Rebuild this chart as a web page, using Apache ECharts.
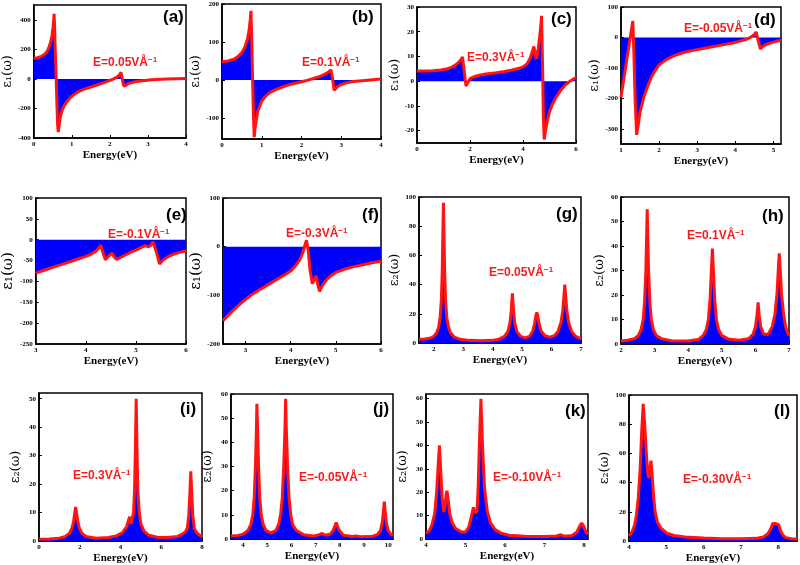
<!DOCTYPE html>
<html><head><meta charset="utf-8">
<script src="https://cdn.jsdelivr.net/npm/echarts@6/dist/echarts.min.js"></script>
<style>html,body{margin:0;padding:0;background:#fff}#c{width:800px;height:565px}</style>
</head><body><div id="c"></div>
<script>
// ---- data (energy eV, epsilon) ----
const epsA = [[0,140],[0.1,143],[0.2,152],[0.3,170],[0.36,190],[0.41,220],[0.45,255],[0.48,295],[0.505,345],[0.525,400],[0.535,440],[0.55,340],[0.57,150],[0.59,0],[0.61,-180],[0.63,-320],[0.645,-360],[0.66,-330],[0.69,-270],[0.73,-225],[0.8,-180],[0.9,-145],[1.0,-118],[1.1,-98],[1.2,-83],[1.35,-68],[1.5,-55],[1.7,-38],[1.85,-25],[2.0,-10],[2.1,0],[2.2,15],[2.26,30],[2.29,45],[2.32,10],[2.35,-35],[2.38,-50],[2.42,-42],[2.5,-30],[2.65,-20],[2.85,-12],[3.1,-6],[3.5,-1],[4.0,3]];
const epsB = [[0,48],[0.15,50],[0.3,55],[0.4,62],[0.5,72],[0.58,88],[0.64,108],[0.68,130],[0.71,158],[0.73,182],[0.75,100],[0.77,0],[0.79,-90],[0.81,-150],[0.84,-120],[0.9,-82],[1.0,-55],[1.1,-42],[1.2,-33],[1.35,-25],[1.5,-19],[1.7,-12],[1.9,-7],[2.1,-2],[2.3,4],[2.45,9],[2.58,15],[2.68,21],[2.74,27],[2.78,5],[2.82,-27],[2.88,-20],[2.95,-14],[3.1,-8],[3.3,-4],[3.6,-1],[4.0,3]];
const epsC = [[0,4.1],[0.3,4.1],[0.6,4.2],[0.9,4.5],[1.1,4.9],[1.3,5.6],[1.45,6.5],[1.57,7.6],[1.66,8.8],[1.72,9.8],[1.78,4],[1.85,-2],[1.92,-0.5],[2.0,1],[2.15,1.8],[2.35,2.4],[2.6,2.9],[3.0,3.4],[3.3,3.9],[3.6,4.5],[3.85,5.2],[4.0,5.8],[4.15,7],[4.28,9.5],[4.41,14],[4.47,10.5],[4.51,9],[4.57,13],[4.63,18],[4.67,22],[4.7,26.4],[4.74,5],[4.77,-15],[4.8,-23.6],[4.85,-20],[4.92,-16],[5.0,-12.5],[5.1,-9.5],[5.25,-6.5],[5.4,-4],[5.6,-1.5],[5.8,0.2],[6.0,1.5]];
const epsD = [[1.0,-196],[1.1,-115],[1.2,-35],[1.26,15],[1.31,54],[1.34,-60],[1.37,-200],[1.41,-320],[1.45,-290],[1.5,-245],[1.6,-195],[1.7,-160],[1.8,-130],[1.9,-108],[2.0,-90],[2.2,-72],[2.4,-60],[2.6,-51],[2.8,-45],[3.0,-40],[3.3,-33],[3.6,-26],[3.9,-19],[4.1,-13],[4.3,-6],[4.42,2],[4.5,10],[4.55,18],[4.6,-10],[4.66,-38],[4.72,-30],[4.8,-24],[4.95,-17],[5.1,-12],[5.2,-10]];
const epsE = [[3.0,-80],[3.2,-72],[3.4,-64],[3.6,-56],[3.8,-48],[4.0,-40],[4.1,-35],[4.2,-28],[4.27,-18],[4.3,-13],[4.34,-30],[4.39,-48],[4.45,-40],[4.52,-32],[4.57,-42],[4.62,-47],[4.7,-42],[4.8,-36],[4.9,-30],[5.0,-25],[5.1,-19],[5.18,-14],[5.25,-17],[5.3,-13],[5.34,-5],[5.37,-1],[5.41,-30],[5.47,-58],[5.55,-48],[5.65,-40],[5.75,-35],[5.85,-31],[6.0,-27]];
const epsF = [[2.5,-152],[2.7,-133],[2.9,-116],[3.1,-101],[3.3,-89],[3.5,-78],[3.7,-67],[3.9,-56],[4.0,-50],[4.1,-40],[4.2,-27],[4.27,-12],[4.32,5],[4.35,13],[4.39,-10],[4.43,-50],[4.48,-76],[4.52,-68],[4.56,-60],[4.6,-78],[4.64,-92],[4.7,-80],[4.8,-67],[4.9,-59],[5.0,-53],[5.2,-46],[5.4,-41],[5.6,-37],[5.8,-33],[6.0,-30]];
const epsG = [[1.5,2.5],[1.7,2.8],[1.9,3.5],[2.0,4.5],[2.1,7],[2.17,11],[2.22,18],[2.26,30],[2.29,50],[2.31,75],[2.33,96],[2.35,75],[2.37,50],[2.4,30],[2.44,18],[2.5,11],[2.57,7],[2.7,4],[2.9,2.5],[3.2,1.8],[3.6,1.6],[4.0,1.8],[4.2,2.5],[4.4,4.5],[4.52,8],[4.59,14],[4.63,22],[4.67,34],[4.71,22],[4.75,14],[4.82,8],[4.95,4.5],[5.1,3.5],[5.25,4.5],[5.36,8],[5.42,13],[5.47,19],[5.5,21],[5.53,19],[5.58,13],[5.65,8],[5.78,5],[5.95,4],[6.1,5],[6.22,8],[6.32,14],[6.38,22],[6.42,32],[6.45,40],[6.48,32],[6.52,22],[6.58,14],[6.68,8],[6.82,4.5],[7.0,2.8]];
const epsH = [[2.0,1.2],[2.2,1.5],[2.4,2.2],[2.52,3.5],[2.6,6],[2.66,10],[2.7,17],[2.74,30],[2.78,55],[2.82,30],[2.86,17],[2.9,10],[2.96,6],[3.05,3.5],[3.2,2.2],[3.5,1.3],[4.0,1.2],[4.3,1.8],[4.45,3.5],[4.54,6],[4.6,10],[4.65,18],[4.69,30],[4.72,39],[4.75,30],[4.79,18],[4.84,10],[4.9,6],[5.0,3.5],[5.2,2],[5.5,1.5],[5.8,2.2],[5.93,4],[6.0,7],[6.05,12],[6.08,17],[6.11,12],[6.16,7],[6.25,4],[6.38,4],[6.5,7],[6.58,12],[6.64,20],[6.68,30],[6.71,37],[6.74,30],[6.78,20],[6.84,12],[6.9,7],[6.96,4.5],[7.0,3.5]];
const epsI = [[0,0.6],[0.5,0.7],[1.0,1],[1.3,1.6],[1.5,2.8],[1.62,4.5],[1.7,7],[1.76,10],[1.8,12],[1.84,10],[1.9,7],[1.98,4.5],[2.1,2.8],[2.3,1.6],[2.8,1],[3.4,1.2],[3.8,1.8],[4.1,3],[4.3,5],[4.4,7.5],[4.45,8.5],[4.52,6],[4.58,6.5],[4.64,10],[4.69,18],[4.73,32],[4.77,50],[4.81,32],[4.85,18],[4.92,10],[5.0,6],[5.15,3.5],[5.4,2],[5.8,1.3],[6.3,1.2],[6.8,1.6],[7.05,2.5],[7.18,3.2],[7.28,4.5],[7.35,9],[7.4,16],[7.45,24.5],[7.5,16],[7.55,9],[7.62,4.5],[7.72,3],[7.85,2.2],[8.0,1.5]];
const epsJ = [[3.5,1.2],[3.8,1.5],[4.0,2],[4.2,3.5],[4.32,6],[4.4,10],[4.46,17],[4.51,30],[4.55,45],[4.57,56],[4.6,45],[4.64,30],[4.69,17],[4.75,10],[4.83,6],[4.95,3.5],[5.15,2.5],[5.35,3.5],[5.47,6],[5.55,10],[5.62,17],[5.68,30],[5.73,45],[5.76,58],[5.79,45],[5.84,30],[5.9,17],[5.97,10],[6.05,6],[6.2,3.5],[6.5,1.8],[6.9,1.2],[7.15,1.8],[7.27,2.3],[7.38,1.6],[7.6,2],[7.72,3.5],[7.8,5.5],[7.85,6.8],[7.9,5.5],[7.98,3.5],[8.15,1.6],[8.5,1],[8.67,1.3],[8.85,0.9],[9.3,1],[9.55,1.8],[9.68,3.5],[9.76,7],[9.81,12],[9.84,15.5],[9.87,12],[9.92,7],[10.0,3.5],[10.1,2],[10.2,1.5]];
const epsK = [[4.0,2.4],[4.08,3.5],[4.15,6],[4.22,11],[4.27,20],[4.31,32],[4.34,40],[4.37,30],[4.41,17],[4.45,11.5],[4.48,14],[4.51,19],[4.53,20.6],[4.56,17],[4.6,11],[4.66,7],[4.75,4.5],[4.9,3],[5.0,3],[5.08,5],[5.14,9],[5.2,13.5],[5.25,11],[5.29,12],[5.32,22],[5.35,40],[5.39,60],[5.43,40],[5.48,22],[5.55,12],[5.63,7],[5.75,4],[5.9,2.5],[6.1,1.6],[6.5,1.2],[7.0,1.1],[7.3,1.3],[7.41,1.8],[7.5,1.2],[7.7,1.5],[7.82,3],[7.89,5.5],[7.94,6.8],[7.99,5.5],[8.05,3],[8.1,2]];
const epsL = [[4.0,3.6],[4.08,6],[4.15,11],[4.2,18],[4.25,30],[4.3,50],[4.34,75],[4.38,94],[4.42,80],[4.46,62],[4.5,47],[4.53,43],[4.56,50],[4.59,55],[4.62,45],[4.66,30],[4.7,20],[4.76,13],[4.85,9],[5.0,5.5],[5.2,3.8],[5.5,2.8],[6.0,2],[6.5,1.6],[7.0,1.5],[7.4,1.8],[7.6,2.8],[7.72,5],[7.8,8.5],[7.85,12],[7.89,13.2],[7.93,12],[7.97,12.4],[8.01,11],[8.06,7],[8.12,4],[8.2,2.3],[8.35,1.5],[8.5,1.2]];

const panelTags = ['(a)','(b)','(c)','(d)','(e)','(f)','(g)','(h)','(i)','(j)','(k)','(l)'];
const fieldLabels = ['0.05','0.1','0.3','-0.05','-0.1','-0.3','0.05','0.1','0.3','-0.05','-0.10','-0.30'];
const yNames = ['ε₁(ω)','ε₁(ω)','ε₁(ω)','ε₁(ω)','ε₁(ω)','ε₁(ω)','ε₂(ω)','ε₂(ω)','ε₂(ω)','ε₂(ω)','ε₂(ω)','ε₂(ω)'];
const xRanges = [[0,4],[0,4],[0,6],[1,5.2],[3,6],[2.5,6],[1.5,7],[2,7],[0,8],[3.5,10.2],[4,8.1],[4,8.5]];
const xTicks = [[0,1,2,3,4],[0,1,2,3,4],[0,2,4,6],[1,2,3,4,5],[3,4,5,6],[3,4,5,6],[2,3,4,5,6,7],[2,3,4,5,6,7],[0,2,4,6,8],[4,5,6,7,8,9,10],[4,5,6,7,8],[4,5,6,7,8]];
const yRanges = [[-400,500],[-155,200],[-25,30],[-350,100],[-250,100],[-200,100],[0,100],[0,60],[0,52],[0,60],[0,62],[0,100]];
const yTicks = [[-400,-200,0,200,400],[-100,0,100,200],[-20,-10,0,10,20,30],[-300,-200,-100,0,100],[-250,-200,-150,-100,-50,0,50,100],[-200,-100,0,100],[0,20,40,60,80,100],[0,10,20,30,40,50,60],[0,10,20,30,40,50],[0,10,20,30,40,50,60],[0,10,20,30,40,50,60],[0,20,40,60,80,100]];
const seriesData = [epsA,epsB,epsC,epsD,epsE,epsF,epsG,epsH,epsI,epsJ,epsK,epsL];

// ---- layout ----
const grids = [[29,5,157,133],[222,4,159,135],[417,7,159,136],[621,7,160,137],
               [30,198,156,146],[223,198,158,146],[419,197,162,146],[621,197,168,147],
               [39,393,163,148],[231,394,162,145],[426,394,162,145],[629,395,168,146]];
const tagPos = [[163,9],[352,9],[551,11],[754,12],[166,207],[362,207],[556,206],[762,208],[180,401],[373,401],[565,403],[774,403]];
const fieldPos = [[93,56],[302,56],[467,51],[684,22],[108,228],[286,227],[489,266],[687,229],[73,469],[299,471],[493,471],[683,473]];

const chart = echarts.init(document.getElementById('c'), null, {renderer:'canvas'});
const gridArr=[], xA=[], yA=[], ser=[], titles=[];
const tickFont = {fontFamily:'Liberation Serif', fontWeight:'bold', fontSize:7, color:'#000'};
for (let i=0;i<12;i++){
  const g = grids[i];
  gridArr.push({left:g[0], top:g[1], width:g[2], height:g[3], show:true, borderColor:'#000', borderWidth:1.5, containLabel:false});
  xA.push({type:'value', gridIndex:i, min:xRanges[i][0], max:xRanges[i][1],
    name:'Energy(eV)', nameLocation:'middle', nameGap:12,
    nameTextStyle:{fontFamily:'Liberation Serif', fontWeight:'bold', fontSize:11, color:'#000'},
    axisLine:{onZero:false, lineStyle:{color:'#000', width:1.5}},
    axisTick:{inside:true, length:3, customValues:xTicks[i], lineStyle:{color:'#000'}},
    axisLabel:Object.assign({margin:3, customValues:xTicks[i]}, tickFont),
    splitLine:{show:false}});
  yA.push({type:'value', gridIndex:i, min:yRanges[i][0], max:yRanges[i][1],
    name:yNames[i], nameLocation:'middle', nameGap: (i>=8? 17: (i===0?14:15)),
    nameTextStyle:{fontFamily:'DejaVu Serif', fontSize:(i===4||i===5)?15:13, color:'#000'},
    axisLine:{onZero:false, lineStyle:{color:'#000', width:1.5}},
    axisTick:{inside:true, length:3, customValues:yTicks[i], lineStyle:{color:'#000'}},
    axisLabel:Object.assign({margin:3, customValues:yTicks[i]}, tickFont),
    splitLine:{show:false}});
  ser.push({type:'line', xAxisIndex:i, yAxisIndex:i, data:seriesData[i], showSymbol:false, smooth:false,
    lineStyle:{color:'#ff1414', width:3},
    areaStyle:{color:'#0000ff', opacity:1, origin:'auto'}, animation:false, silent:true});
  titles.push({text:panelTags[i], left:tagPos[i][0], top:tagPos[i][1], padding:0,
    textStyle:{fontFamily:'Liberation Sans', fontWeight:'bold', fontSize:17, color:'#000'}});
  titles.push({text:'E='+fieldLabels[i]+'VÅ{s|−1}', left:fieldPos[i][0], top:fieldPos[i][1], padding:0,
    textStyle:{fontFamily:'Liberation Sans', fontWeight:'bold', fontSize:12, color:'#f21d1d',
      rich:{s:{fontFamily:'Liberation Sans', fontWeight:'bold', fontSize:8, color:'#f21d1d', verticalAlign:'top', lineHeight:14}}}});
}
chart.setOption({animation:false, backgroundColor:'#fff', title:titles, grid:gridArr, xAxis:xA, yAxis:yA, series:ser});
</script></body></html>
